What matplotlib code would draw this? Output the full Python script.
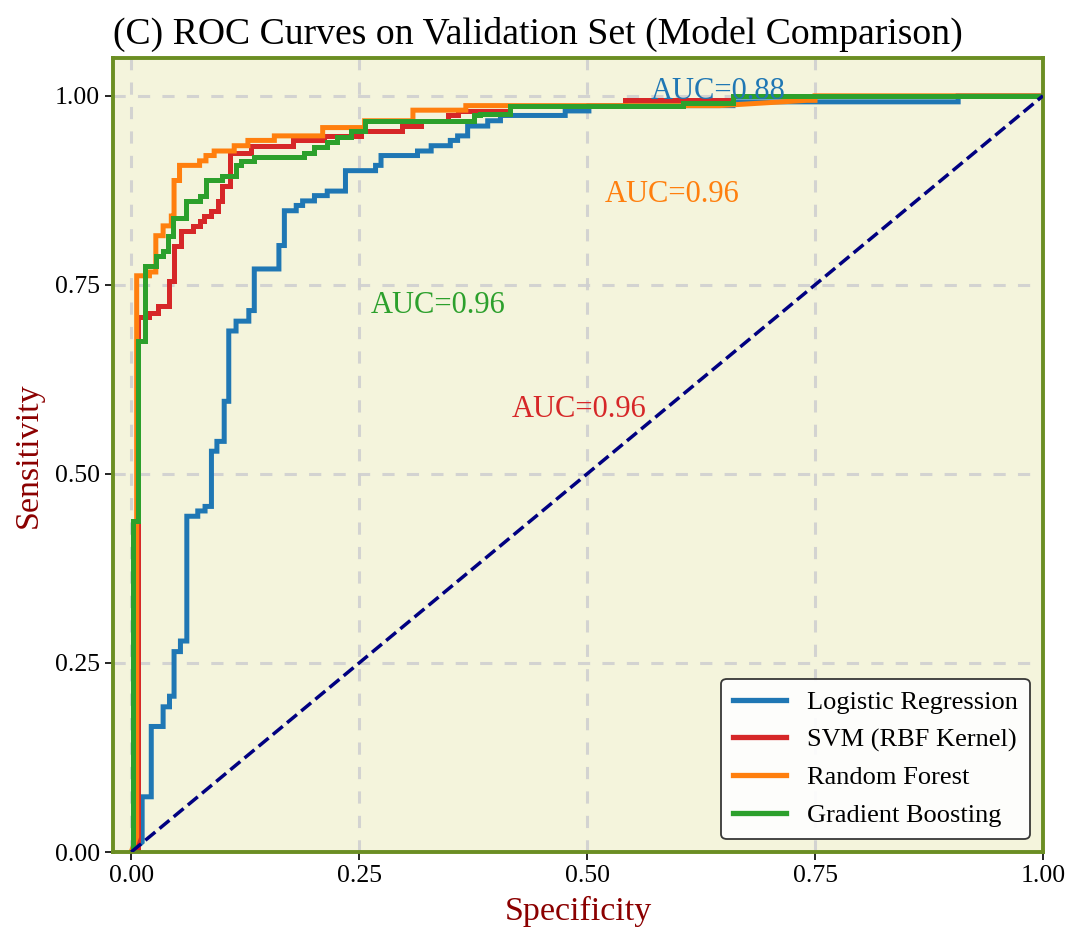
import matplotlib
matplotlib.use("Agg")
import matplotlib.pyplot as plt

plt.rcParams['font.family'] = ['Liberation Serif', 'DejaVu Serif']

models = ["Logistic Regression", "SVM (RBF Kernel)", "Random Forest", "Gradient Boosting"]
colors = ["#1f77b4", "#d62728", "#ff7f0e", "#2ca02c"]
auc_labels = ["AUC=0.88", "AUC=0.96", "AUC=0.96", "AUC=0.96"]
auc_pos = [(0.644, 0.996), (0.491, 0.575), (0.593, 0.860), (0.337, 0.713)]

fpr_lr = [0, 0.012, 0.012, 0.022, 0.022, 0.035, 0.035, 0.042, 0.042, 0.047, 0.047, 0.054, 0.054,
          0.061, 0.061, 0.073, 0.073, 0.081, 0.081, 0.088, 0.088, 0.094, 0.094, 0.102, 0.102,
          0.107, 0.107, 0.115, 0.115, 0.129, 0.129, 0.135, 0.135, 0.162, 0.162, 0.168, 0.168,
          0.181, 0.181, 0.188, 0.188, 0.201, 0.201, 0.215, 0.215, 0.235, 0.235, 0.268, 0.268,
          0.274, 0.274, 0.314, 0.314, 0.329, 0.329, 0.350, 0.350, 0.358, 0.358, 0.369, 0.369,
          0.391, 0.391, 0.405, 0.405, 0.476, 0.476, 0.502, 0.502, 0.660, 0.660, 0.907, 0.907, 1.0]
tpr_lr = [0, 0.013, 0.073, 0.073, 0.166, 0.166, 0.192, 0.192, 0.206, 0.206, 0.265, 0.265, 0.279,
          0.279, 0.444, 0.444, 0.451, 0.451, 0.457, 0.457, 0.530, 0.530, 0.543, 0.543, 0.596,
          0.596, 0.689, 0.689, 0.702, 0.702, 0.716, 0.716, 0.771, 0.771, 0.802, 0.802, 0.848,
          0.848, 0.855, 0.855, 0.861, 0.861, 0.868, 0.868, 0.874, 0.874, 0.901, 0.901, 0.908,
          0.908, 0.921, 0.921, 0.927, 0.927, 0.934, 0.934, 0.941, 0.941, 0.947, 0.947, 0.960,
          0.960, 0.967, 0.967, 0.974, 0.974, 0.980, 0.980, 0.987, 0.987, 0.992, 0.992, 1.0, 1.0]

fpr_svm = [0, 0.007, 0.007, 0.020, 0.020, 0.029, 0.029, 0.042, 0.042, 0.047, 0.047, 0.055, 0.055,
           0.068, 0.068, 0.075, 0.075, 0.080, 0.080, 0.088, 0.088, 0.095, 0.095, 0.100, 0.100,
           0.108, 0.108, 0.131, 0.131, 0.177, 0.177, 0.212, 0.212, 0.252, 0.252, 0.297, 0.297,
           0.318, 0.318, 0.347, 0.347, 0.358, 0.358, 0.415, 0.415, 0.542, 0.542, 0.660, 0.660, 1.0]
tpr_svm = [0, 0.0, 0.707, 0.707, 0.713, 0.713, 0.722, 0.722, 0.755, 0.755, 0.802, 0.802, 0.821,
           0.821, 0.828, 0.828, 0.835, 0.835, 0.841, 0.841, 0.848, 0.848, 0.861, 0.861, 0.881,
           0.881, 0.924, 0.924, 0.934, 0.934, 0.941, 0.941, 0.947, 0.947, 0.954, 0.954, 0.960,
           0.960, 0.967, 0.967, 0.974, 0.974, 0.980, 0.980, 0.987, 0.987, 0.994, 0.994, 1.0, 1.0]

fpr_rf = [0, 0.006, 0.006, 0.020, 0.020, 0.027, 0.027, 0.035, 0.035, 0.044, 0.044, 0.047, 0.047,
          0.053, 0.053, 0.075, 0.075, 0.082, 0.082, 0.091, 0.091, 0.113, 0.113, 0.128, 0.128,
          0.157, 0.157, 0.210, 0.210, 0.256, 0.256, 0.309, 0.309, 0.367, 0.367, 0.645, 0.741,
          0.750, 0.750, 1.0]
tpr_rf = [0, 0.02, 0.762, 0.762, 0.767, 0.767, 0.815, 0.815, 0.828, 0.828, 0.841, 0.841, 0.888,
          0.888, 0.908, 0.908, 0.914, 0.914, 0.921, 0.921, 0.927, 0.927, 0.934, 0.934, 0.941,
          0.941, 0.947, 0.947, 0.958, 0.958, 0.967, 0.967, 0.981, 0.981, 0.987, 0.987, 0.994,
          0.994, 1.0, 1.0]

fpr_gb = [0, 0.002, 0.002, 0.008, 0.008, 0.015, 0.015, 0.027, 0.027, 0.035, 0.035, 0.040, 0.040,
          0.046, 0.046, 0.060, 0.060, 0.075, 0.075, 0.082, 0.082, 0.100, 0.100, 0.115, 0.115,
          0.120, 0.120, 0.135, 0.135, 0.190, 0.190, 0.201, 0.201, 0.215, 0.215, 0.226, 0.226,
          0.241, 0.241, 0.256, 0.256, 0.376, 0.376, 0.383, 0.383, 0.415, 0.415, 0.605, 0.605,
          0.660, 0.660, 1.0]
tpr_gb = [0, 0.0, 0.438, 0.438, 0.676, 0.676, 0.775, 0.775, 0.788, 0.788, 0.795, 0.795, 0.815,
          0.815, 0.839, 0.839, 0.861, 0.861, 0.868, 0.868, 0.888, 0.888, 0.894, 0.894, 0.908,
          0.908, 0.914, 0.914, 0.919, 0.919, 0.925, 0.925, 0.932, 0.932, 0.939, 0.939, 0.946,
          0.946, 0.953, 0.953, 0.967, 0.967, 0.974, 0.974, 0.976, 0.976, 0.987, 0.987, 0.991,
          0.991, 1.0, 1.0]

curves = [(fpr_lr, tpr_lr), (fpr_svm, tpr_svm), (fpr_rf, tpr_rf), (fpr_gb, tpr_gb)]

fig = plt.figure(figsize=(10.8, 9.43), dpi=100)
ax = fig.add_axes([0.1046, 0.0965, 0.8611, 0.842])
ax.set_facecolor("#f4f4dc")

for (f, t), name, c in zip(curves, models, colors):
    ax.plot(f, t, color=c, lw=3.6, label=name, solid_joinstyle='miter')

ax.plot([0, 1], [0, 1], color="navy", lw=2.5, linestyle="--", zorder=3)

for txt, (x, y), c in zip(auc_labels, auc_pos, colors):
    ax.text(x, y, txt, color=c, fontsize=22, ha='center', va='baseline')

ax.set_xlim(-0.02, 1.0)
ax.set_ylim(0.0, 1.05)
ticks = [0.0, 0.25, 0.5, 0.75, 1.0]
ax.set_xticks(ticks)
ax.set_yticks(ticks)
ax.set_xticklabels(["0.00", "0.25", "0.50", "0.75", "1.00"])
ax.set_yticklabels(["0.00", "0.25", "0.50", "0.75", "1.00"])
ax.tick_params(labelsize=18.5, length=6, width=1.2)

ax.grid(True, color="#d0d0d0", linestyle=(0, (4, 4)), linewidth=2.2, alpha=0.9)
ax.set_axisbelow(True)

for s in ax.spines.values():
    s.set_color("#6b8e23")
    s.set_linewidth(2.8)

ax.set_xlabel("Specificity", fontsize=24.5, color="#8b0000", labelpad=6)
ax.set_ylabel("Sensitivity", fontsize=24.5, color="#8b0000", labelpad=8)
ax.set_title("(C) ROC Curves on Validation Set (Model Comparison)", fontsize=27.2, loc='left', pad=10)

leg = ax.legend(loc='lower right', fontsize=19, frameon=True, fancybox=True,
                framealpha=0.9, edgecolor="#222222", handlelength=2.0, borderpad=0.45,
                labelspacing=0.53)
leg.get_frame().set_linewidth(1.3)
for h in leg.get_lines():
    h.set_linewidth(3.8)

fig.savefig("out.png", dpi=100)
